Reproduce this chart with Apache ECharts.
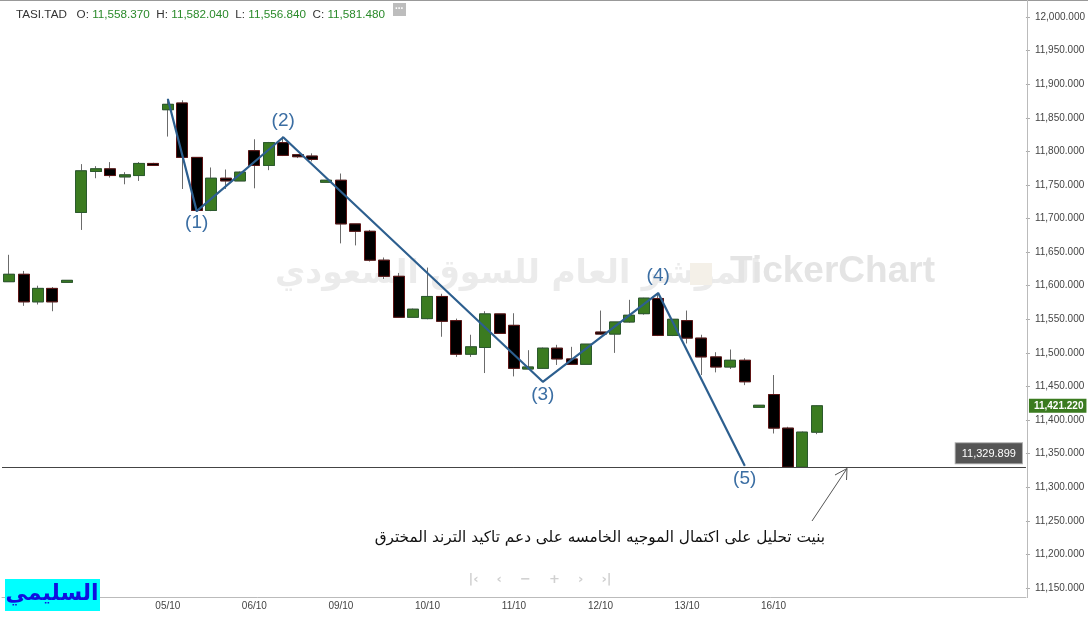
<!DOCTYPE html>
<html><head><meta charset="utf-8">
<script src="https://cdn.jsdelivr.net/npm/echarts@6/dist/echarts.min.js"></script>
<style>html,body{margin:0;padding:0;background:#fff}#c{width:1088px;height:617px}</style>
</head><body><div id="c"></div>
<script>
// ---- data ----
const candleTimes = [
 '03/10 11:00','03/10 12:00','03/10 13:00','03/10 14:00','03/10 15:00',
 '04/10 10:00','04/10 11:00','04/10 12:00','04/10 13:00','04/10 14:00','04/10 15:00',
 '05/10 10:00','05/10 11:00','05/10 12:00','05/10 13:00','05/10 14:00','05/10 15:00',
 '06/10 10:00','06/10 11:00','06/10 12:00','06/10 13:00','06/10 14:00','06/10 15:00',
 '09/10 10:00','09/10 11:00','09/10 12:00','09/10 13:00','09/10 14:00','09/10 15:00',
 '10/10 10:00','10/10 11:00','10/10 12:00','10/10 13:00','10/10 14:00','10/10 15:00',
 '11/10 10:00','11/10 11:00','11/10 12:00','11/10 13:00','11/10 14:00','11/10 15:00',
 '12/10 10:00','12/10 11:00','12/10 12:00','12/10 13:00','12/10 14:00','12/10 15:00',
 '13/10 10:00','13/10 11:00','13/10 12:00','13/10 13:00','13/10 14:00','13/10 15:00',
 '16/10 10:00','16/10 11:00','16/10 12:00','16/10 13:00'
];
const openValues = [
 11606,11617,11576,11596,11605,
 11709,11770,11774,11762,11764,11782,
 11862,11872,11791,11712,11760,11756,
 11801,11779,11813,11795,11793,11754,
 11757,11692,11681,11638,11614,11553,
 11551,11584,11548,11498,11508,11558,
 11541,11476,11477,11507,11491,11483,
 11531,11528,11546,11558.37,11581,11526,
 11548,11522,11494,11479,11489,11419,
 11438,11388,11330,11382
];
const highValues = [
 11646,11622,11600,11598,11608,
 11781,11778,11784,11769,11784,11783,
 11878,11876,11791,11776,11773,11770,
 11818,11814,11822,11796,11797,11757,
 11767,11692,11683,11642,11619,11566,
 11627,11588,11551,11527,11562,11558,
 11559,11504,11508,11512,11509,11513,
 11563,11546,11579,11582.04,11587,11550,
 11563,11527,11501,11505,11492,11422,
 11467,11390,11383,11422
];
const lowValues = [
 11606,11570,11572,11562,11605,
 11683,11760,11761,11751,11756,11779,
 11822,11744,11710,11711,11744,11756,
 11745,11772,11793,11790,11785,11754,
 11663,11660,11636,11610,11553,11553,
 11550,11524,11494,11494,11470,11529,
 11465,11476,11476,11482,11482,11483,
 11527,11500,11545,11556.84,11525,11525,
 11514,11467,11471,11476,11452,11419,
 11380,11330,11330,11379
];
const closeValues = [
 11617,11576,11596,11576,11608,
 11771,11774,11764,11765,11782,11779,
 11870,11791,11712,11760,11756,11769,
 11779,11813,11794,11792,11788,11757,
 11692,11681,11638,11614,11553,11565,
 11584,11547,11498,11509,11558,11529,
 11477,11479,11507,11491,11483,11513,
 11528,11546,11556,11581.48,11526,11550,
 11522,11494,11479,11489,11457,11422,
 11388,11330,11382,11421.22
];
const waveIndex  = [11, 13, 19, 37, 45, 51];
const waveValues = [11878, 11711, 11821, 11457, 11589, 11332];
const waveLabels = ['', '(1)', '(2)', '(3)', '(4)', '(5)'];
const supportLevel = 11329.899;
const lastPrice = 11421.22;
const headerIndex = 44;
const yMin = 11150, yMax = 12000, yStep = 50;
const futureSlots = 14;
const noteText = 'بنيت تحليل على اكتمال الموجيه الخامسه على دعم تاكيد الترند المخترق';
const signature = 'السليمي';

// ---- build ----
const fmt = v => Number(v).toLocaleString('en-US', {minimumFractionDigits: 3, maximumFractionDigits: 3});
const categories = candleTimes.concat(Array(futureSlots).fill(''));
const fullCandles = candleTimes.map((t, i) => [openValues[i], closeValues[i], lowValues[i], highValues[i]]);
const bodyCandles = candleTimes.map((t, i) => [openValues[i], closeValues[i],
  Math.min(openValues[i], closeValues[i]), Math.max(openValues[i], closeValues[i])]);
const wavePos = ['none', 'bottom', 'top', 'bottom', 'top', 'bottom'];
const waveDist = [0, 2, 6, 3, 7, 3];
const waveData = candleTimes.map(() => null);
waveIndex.forEach((idx, k) => {
  waveData[idx] = {
    value: waveValues[k],
    label: waveLabels[k] ? {show: true, position: wavePos[k], distance: waveDist[k], formatter: waveLabels[k]} : {show: false}
  };
});

const h = headerIndex;
const titleText = '{n|TASI.TAD}   {n|O:} {v|' + fmt(openValues[h]) + '}  {n|H:} {v|' + fmt(highValues[h]) +
  '}  {n|L:} {v|' + fmt(lowValues[h]) + '}  {n|C:} {v|' + fmt(closeValues[h]) + '}';

const GREEN = '#3b7b20', GREEN_B = '#2b5a2d', DOWN_B = '#5e1414', WAVE = '#2d5f8f';
const FONT = 'Liberation Sans, Arial, sans-serif';

const chart = echarts.init(document.getElementById('c'));
chart.setOption({
  animation: false,
  backgroundColor: '#fff',
  title: {
    left: 11, top: 4,
    text: titleText,
    textStyle: {
      fontSize: 11.7, fontWeight: 'normal', fontFamily: FONT,
      rich: {
        n: {color: '#333', fontSize: 11.7, fontFamily: FONT},
        v: {color: '#2a8a2a', fontSize: 11.7, fontFamily: FONT}
      }
    }
  },
  grid: {left: 2, right: 61, top: 17, bottom: 29, containLabel: false},
  xAxis: {
    type: 'category', data: categories, boundaryGap: true, offset: 9,
    axisLine: {show: true, lineStyle: {color: '#bbb'}},
    axisTick: {show: false},
    axisLabel: {
      interval: 0, margin: 4, color: '#444', fontSize: 10, fontFamily: FONT,
      formatter: v => (v && v.endsWith('10:00')) ? v.slice(0, 5) : ''
    },
    splitLine: {show: false}
  },
  yAxis: {
    type: 'value', position: 'right', min: yMin, max: yMax, interval: yStep, scale: true,
    axisLine: {show: false},
    axisTick: {show: true, length: 4, lineStyle: {color: '#aaa'}},
    axisLabel: {
      margin: 9, color: '#444', fontSize: 10, fontFamily: FONT,
      formatter: v => fmt(v)
    },
    splitLine: {show: false}
  },
  series: [
    {
      type: 'candlestick', name: 'wicks', data: fullCandles, barWidth: 11.5, z: 2,
      itemStyle: {color: '#666', color0: '#666', borderColor: '#6b6b6b', borderColor0: '#6b6b6b', borderWidth: 1}
    },
    {
      type: 'candlestick', name: 'bodies', data: bodyCandles, barWidth: 11.5, z: 3,
      itemStyle: {color: GREEN, color0: '#000', borderColor: GREEN_B, borderColor0: DOWN_B, borderWidth: 1},
      markLine: {
        silent: true, symbol: ['none', 'none'], animation: false,
        data: [
          {
            yAxis: supportLevel,
            lineStyle: {color: '#444', width: 1, type: 'solid'},
            label: {
              show: true, position: 'insideEndTop', distance: [4, 4], formatter: fmt(supportLevel),
              color: '#fff', backgroundColor: '#555', borderColor: '#aaa', borderWidth: 1,
              padding: [5, 6, 4, 6], fontSize: 11, fontFamily: FONT
            }
          },
          {
            yAxis: lastPrice,
            lineStyle: {color: 'rgba(0,0,0,0)', width: 1, type: 'solid'},
            label: {
              show: true, position: 'end', distance: 3, formatter: fmt(lastPrice),
              color: '#fff', backgroundColor: '#3b7b20', fontWeight: 'bold',
              padding: [2, 3, 2, 5], fontSize: 10, fontFamily: FONT
            }
          }
        ]
      }
    },
    {
      type: 'line', name: 'waves', data: waveData, connectNulls: true, z: 5,
      symbol: 'circle', symbolSize: 1, showSymbol: true,
      lineStyle: {color: WAVE, width: 2.2},
      itemStyle: {color: WAVE},
      label: {color: '#3b6ea3', fontSize: 19, fontFamily: FONT}
    }
  ],
  graphic: [
    // watermark
    {type: 'text', left: 275, top: 258, z: 0, silent: true,
     style: {text: 'المؤشر العام للسوق السعودي', font: 'bold 33px "DejaVu Sans", sans-serif', fill: '#ebebeb'}},
    {type: 'rect', z: 0, silent: true, shape: {x: 690, y: 263, width: 22, height: 22}, style: {fill: '#f4f0e8'}},
    {type: 'text', left: 730, top: 253, z: 0, silent: true,
     style: {text: 'TickerChart', font: 'bold 37px "Liberation Sans", Arial, sans-serif', fill: '#e4e4e4'}},
    // frame lines
    {type: 'line', z: 1, silent: true, shape: {x1: 0, y1: 0.5, x2: 1088, y2: 0.5}, style: {stroke: '#999', lineWidth: 1}},
    {type: 'line', z: 1, silent: true, shape: {x1: 1027.5, y1: 0, x2: 1027.5, y2: 598}, style: {stroke: '#bbb', lineWidth: 1}},
    // header button
    {type: 'rect', z: 10, shape: {x: 393, y: 3, width: 13, height: 13}, style: {fill: '#bdbdbd'}},
    {type: 'text', z: 11, left: 395, top: 1, style: {text: '...', font: 'bold 10px sans-serif', fill: '#fff'}},
    // annotation arrow
    {type: 'line', z: 10, shape: {x1: 812, y1: 521, x2: 847, y2: 468.5}, style: {stroke: '#555', lineWidth: 1}},
    {type: 'polyline', z: 10, shape: {points: [[835, 475], [847, 468.5], [846.5, 480]]}, style: {stroke: '#555', lineWidth: 1, fill: null}},
    {type: 'text', z: 10, x: 825, y: 538, style: {text: noteText, font: '15.3px "DejaVu Sans", sans-serif', fill: '#111', textAlign: 'right', textVerticalAlign: 'middle'}},
    // nav controls
    {type: 'text', z: 10, x: 540, y: 580, style: {text: '|‹    ‹    −    +    ›    ›|', font: 'bold 13px "DejaVu Sans", sans-serif', fill: '#d0d0d0', textAlign: 'center', textVerticalAlign: 'middle'}},
    // signature box
    {type: 'rect', z: 20, shape: {x: 5, y: 579, width: 95, height: 32}, style: {fill: '#00ffff'}},
    {type: 'text', z: 21, x: 52, y: 594, style: {text: signature, font: 'bold 22px "DejaVu Sans", sans-serif', fill: '#1010e0', textAlign: 'center', textVerticalAlign: 'middle'}}
  ]
});
</script></body></html>
